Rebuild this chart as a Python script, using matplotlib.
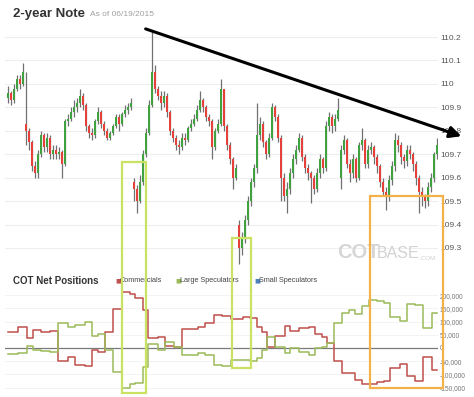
"""
2-year Note 日线 + COT 净持仓对比图
"""
import numpy as np
import matplotlib
matplotlib.use('Agg')
import matplotlib.pyplot as plt
import matplotlib.patches as mpatches

plt.rcParams['font.family'] = ['Liberation Sans', 'DejaVu Sans']

# ===== 价格数据（K线，按交易日顺序）=====
closes = [
    109.96, 109.93, 109.98, 110.02, 110.00, 110.05, 109.80, 109.75, 109.65, 109.62,
    109.70, 109.78, 109.73, 109.77, 109.70, 109.72, 109.70, 109.71, 109.66, 109.84,
    109.85, 109.88, 109.90, 109.92, 109.95, 109.91, 109.82, 109.79, 109.78, 109.84,
    109.88, 109.83, 109.80, 109.77, 109.79, 109.82, 109.86, 109.83, 109.87, 109.89,
    109.90, 109.92, 109.55, 109.50, 109.58, 109.70, 109.79, 109.91, 110.05, 109.98,
    109.95, 109.92, 109.95, 109.88, 109.80, 109.77, 109.74, 109.73, 109.77, 109.76,
    109.81, 109.83, 109.85, 109.89, 109.93, 109.90, 109.86, 109.84, 109.73, 109.80,
    109.83, 109.98, 109.82, 109.74, 109.68, 109.60, 109.64, 109.30, 109.34, 109.42,
    109.50, 109.58, 109.64, 109.78, 109.83, 109.75, 109.70, 109.77, 109.90, 109.86,
    109.77, 109.60, 109.52, 109.55, 109.62, 109.68, 109.72, 109.77, 109.69, 109.64,
    109.62, 109.60, 109.55, 109.62, 109.68, 109.64, 109.82, 109.86, 109.82, 109.85,
    109.89, 109.72, 109.76, 109.66, 109.62, 109.68, 109.60, 109.74, 109.76, 109.66,
    109.72, 109.73, 109.69, 109.65, 109.58, 109.54, 109.52, 109.59, 109.65, 109.76,
    109.74, 109.69, 109.67, 109.72, 109.70, 109.66, 109.60, 109.54, 109.52, 109.50,
    109.56, 109.60, 109.70, 109.74,
]
highs = [
    109.99, 109.97, 110.00, 110.04, 110.04, 110.09, 110.05, 109.81, 109.76, 109.67,
    109.72, 109.80, 109.79, 109.79, 109.78, 109.74, 109.74, 109.73, 109.72, 109.85,
    109.87, 109.90, 109.93, 109.94, 109.98, 109.96, 109.92, 109.83, 109.81, 109.85,
    109.90, 109.89, 109.84, 109.81, 109.80, 109.83, 109.87, 109.87, 109.88, 109.91,
    109.92, 109.94, 109.60, 109.57, 109.61, 109.72, 109.81, 109.93, 110.22, 110.08,
    109.99, 109.97, 109.97, 109.96, 109.89, 109.81, 109.78, 109.76, 109.79, 109.79,
    109.82, 109.85, 109.87, 109.91, 109.97, 109.94, 109.91, 109.87, 109.85, 109.81,
    109.85, 110.02, 109.98, 109.83, 109.75, 109.69, 109.66, 109.42, 109.37, 109.44,
    109.52, 109.60, 109.66, 109.92, 109.86, 109.84, 109.76, 109.79, 109.92, 109.91,
    109.87, 109.78, 109.62, 109.58, 109.64, 109.70, 109.74, 109.79, 109.78, 109.70,
    109.66, 109.63, 109.61, 109.64, 109.70, 109.69, 109.84, 109.88, 109.87, 109.87,
    109.94, 109.74, 109.78, 109.77, 109.68, 109.70, 109.69, 109.75, 109.81, 109.77,
    109.74, 109.75, 109.74, 109.70, 109.66, 109.60, 109.56, 109.61, 109.67, 109.79,
    109.78, 109.75, 109.70, 109.74, 109.74, 109.71, 109.67, 109.61, 109.56, 109.53,
    109.58, 109.62, 109.71, 109.77,
]
lows = [
    109.92, 109.91, 109.92, 109.97, 109.98, 109.99, 109.74, 109.72, 109.63, 109.60,
    109.60, 109.69, 109.71, 109.71, 109.68, 109.68, 109.68, 109.68, 109.60, 109.65,
    109.82, 109.84, 109.86, 109.88, 109.90, 109.89, 109.80, 109.77, 109.76, 109.77,
    109.83, 109.81, 109.78, 109.76, 109.76, 109.78, 109.81, 109.80, 109.82, 109.86,
    109.87, 109.89, 109.50, 109.45, 109.49, 109.57, 109.69, 109.78, 109.90, 109.96,
    109.93, 109.89, 109.90, 109.86, 109.78, 109.75, 109.72, 109.70, 109.72, 109.74,
    109.75, 109.80, 109.82, 109.84, 109.88, 109.88, 109.84, 109.82, 109.68, 109.72,
    109.79, 109.82, 109.80, 109.72, 109.66, 109.55, 109.59, 109.23, 109.27, 109.32,
    109.40, 109.48, 109.56, 109.62, 109.76, 109.73, 109.68, 109.69, 109.76, 109.84,
    109.75, 109.50, 109.50, 109.45, 109.53, 109.60, 109.66, 109.71, 109.67, 109.62,
    109.59, 109.49, 109.53, 109.54, 109.60, 109.62, 109.63, 109.80, 109.79, 109.80,
    109.84, 109.55, 109.70, 109.64, 109.58, 109.60, 109.58, 109.59, 109.72, 109.64,
    109.64, 109.70, 109.66, 109.62, 109.56, 109.52, 109.46, 109.50, 109.57, 109.63,
    109.71, 109.66, 109.64, 109.65, 109.68, 109.63, 109.57, 109.45, 109.48, 109.47,
    109.48, 109.54, 109.58, 109.68,
]
first_open = 109.94
gap_opens = {6: 109.83, 42: 109.58, 77: 109.40, 111: 109.60}   # 跳空开盘

price_ticks = [109.3, 109.4, 109.5, 109.6, 109.7, 109.8, 109.9, 110.0, 110.1, 110.2]
price_labels = ['109.3', '109.4', '109.5', '109.6', '109.7', '109.8', '109.9', '110', '110.1', '110.2']

# ===== COT 净持仓（周度，单位：千手）=====
cot_pos = [0, 3.3, 6.3, 8.3, 11, 14, 16.7, 20, 22.3, 25.7,
           28, 30, 32.3, 35, 38, 40.7, 42.3, 45, 46.7, 50,
           52.3, 55.3, 58, 63.3, 65.7, 68.7, 71.3, 74.3, 78.3, 80.7,
           83, 84.7, 86.3, 89, 92.3, 94, 97, 100.3, 102.3, 104.7,
           106.3, 108.7, 111.3, 113.7, 115.7, 118, 120.3, 123, 125.3, 127.3,
           130.7, 133, 135.7, 138.3, 141.3, 143]
commercials = [62, 80, 38, 68, 62, 65, -50, -33, -64, -67,
               -8, -14, 62, 148, 213, 205, 190, 144, 38, 42,
               9, 3, 71, 80, 95, 125, 122, 110, 117, 113,
               81, 62, 5, 47, 83, 64, 74, 81, 53, 43,
               20, -50, -95, -95, -121, -136, -138, -129, -125, -75,
               -61, -106, -124, -33, -83, -83]
large_specs = [-23, -18, 9, -8, -10, -14, 95, 81, 87, 100,
               45, 53, -8, -91, -152, -137, -133, -72, 15, -8,
               24, 3, -27, -19, -27, -64, -68, -45, -45, -50,
               -38, -8, 43, 5, -19, 0, -15, -27, 0, 5,
               20, 95, 133, 144, 129, 160, 182, 178, 172, 118,
               102, 167, 161, 76, 134, 134]
cot_ticks = [-150000, -100000, -50000, 0, 50000, 100000, 150000, 200000]
cot_labels = ['-150,000', '-100,000', '-50,000', '0', '50,000', '100,000', '150,000', '200,000']

# ===== 颜色 =====
UP = '#3fa23f'
DOWN = '#e5403a'
WICK = '#707070'
RED_LINE = '#c0504d'
GREEN_LINE = '#9bbb59'
BOX_GREEN = '#c9e264'
BOX_ORANGE = '#f4b149'

W, H = 474, 397


def fx(px):
    return px / W


def fy(py):
    return 1 - py / H


fig = plt.figure(figsize=(W / 100, H / 100), dpi=100)
fig.patch.set_facecolor('white')

# --- 上图：K线 ---
ax = fig.add_axes([fx(5), fy(268), (438 - 5) / W, (268 - 28) / H])
n = len(closes)
x = np.arange(n)
opens = [first_open] + closes[:-1]
for i, o in gap_opens.items():
    opens[i] = o
opens = np.array(opens)
c = np.array(closes)
colors = [UP if cc >= oo else DOWN for oo, cc in zip(opens, c)]
bottoms = np.minimum(opens, c)
heights = np.maximum(np.abs(c - opens), 0.005)

ax.vlines(x, lows, highs, color=WICK, lw=0.9, zorder=2)
ax.bar(x, heights, bottom=bottoms, width=0.72, color=colors, linewidth=0, zorder=3)

ax.set_xlim(-1, 143.33)
ax.set_ylim(109.2145, 110.2385)
ax.set_yticks(price_ticks)
ax.set_yticklabels(price_labels)
ax.yaxis.tick_right()
ax.tick_params(axis='y', length=0, pad=2, labelsize=6, labelcolor='#555555')
ax.set_xticks([])
ax.grid(axis='y', color='#eeeeee', lw=0.8, zorder=0)
for s in ax.spines.values():
    s.set_visible(False)

# 下降趋势线
ax.annotate('', xy=(152, 109.773), xytext=(45, 110.2385),
            arrowprops=dict(arrowstyle='-|>', color='black', lw=2.2, mutation_scale=17),
            annotation_clip=False, zorder=6)

# 水印
fig.text(fx(337), fy(253), 'COT', fontsize=14.5, fontweight='bold', color='#d6d6d6', va='center')
fig.text(fx(377), fy(254), 'BASE', fontsize=11.5, color='#d2d2d2', va='center')
fig.text(fx(419), fy(258), '.COM', fontsize=4.5, color='#d2d2d2', va='center')

# --- 下图：COT 净持仓 ---
ax2 = fig.add_axes([fx(5), fy(392), (438 - 5) / W, (392 - 290) / H])
ax2.plot(cot_pos, np.array(commercials) * 1000, drawstyle='steps-post', color=RED_LINE, lw=1.1, zorder=3)
ax2.plot(cot_pos, np.array(large_specs) * 1000, drawstyle='steps-post', color=GREEN_LINE, lw=1.1, zorder=3)
ax2.axhline(0, color='#7a7a7a', lw=0.9, zorder=2)
ax2.set_xlim(-1, 143.33)
ax2.set_ylim(-166700, 219700)
ax2.set_yticks(cot_ticks)
ax2.set_yticklabels(cot_labels)
ax2.yaxis.tick_right()
ax2.tick_params(axis='y', length=0, pad=1, labelsize=4.8, labelcolor='#777777')
ax2.set_xticks([])
ax2.grid(axis='y', color='#f3f3f3', lw=0.7, zorder=0)
for s in ax2.spines.values():
    s.set_visible(False)

# --- 标题与图例 ---
fig.text(fx(13), fy(14), '2-year Note', fontsize=9.5, fontweight='bold', color='#333333', va='center')
fig.text(fx(90), fy(15), 'As of 06/19/2015', fontsize=6, color='#a0a0a0', va='center')
fig.text(fx(13), fy(281), 'COT Net Positions', fontsize=7, fontweight='bold', color='#333333', va='center')

legend_items = [(115, RED_LINE, 'Commercials'),
                (175, GREEN_LINE, 'Large Speculators'),
                (254, '#4f81bd', 'Small Speculators')]
for px, col, label in legend_items:
    fig.text(fx(px), fy(281), '\u25a0', fontsize=4.5, color=col, va='center', family='DejaVu Sans')
    fig.text(fx(px + 5), fy(281), label, fontsize=5.2, color='#444444', va='center')

# --- 标注框 ---
boxes = [(122, 162, 146, 393, BOX_GREEN),
         (232, 238, 251, 368, BOX_GREEN),
         (370, 196, 443, 388, BOX_ORANGE)]
for x0, y0, x1, y1, col in boxes:
    rect = mpatches.Rectangle((fx(x0), fy(y1)), (x1 - x0) / W, (y1 - y0) / H,
                              transform=fig.transFigure, fill=False,
                              edgecolor=col, lw=1.6, zorder=10)
    fig.add_artist(rect)

fig.savefig('out.png', dpi=100)
plt.close(fig)
